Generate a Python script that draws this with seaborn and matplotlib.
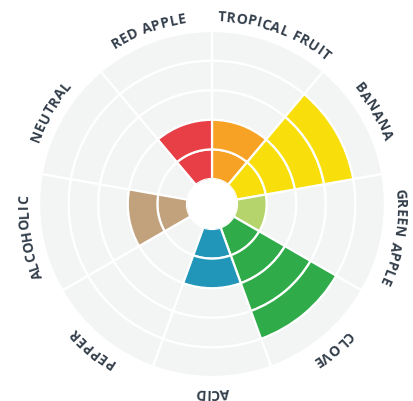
import numpy as np
import pandas as pd
import seaborn as sns
import matplotlib
matplotlib.use("Agg")
import matplotlib.pyplot as plt
from matplotlib.font_manager import FontProperties
from matplotlib.textpath import text_to_path

categories = ["TROPICAL FRUIT", "BANANA", "GREEN APPLE", "CLOVE", "ACID",
              "PEPPER", "ALCOHOLIC", "NEUTRAL", "RED APPLE"]
values = [2, 4, 1, 4, 2, 0, 2, 0, 2]
colors = ["#f7a224", "#f8df0b", "#b5d46c", "#2fab4a", "#2196b8",
          "#9e9e9e", "#c2a27d", "#9e9e9e", "#e83f46"]
max_level = 5

sns.set_theme(style="white", rc={"axes.edgecolor": "white", "axes.linewidth": 0})
plt.rcParams['font.family'] = ['Open Sans', 'DejaVu Sans']

df = pd.DataFrame({"category": categories, "value": values, "color": colors})
n = len(df)
width = 2 * np.pi / n
df["theta"] = (np.arange(n) + 0.5) * width

W, H, dpi = 414, 402, 100
fig = plt.figure(figsize=(W / dpi, H / dpi), dpi=dpi)
cx, cy = 212, 402 - 205
Rpx = 200
ax = fig.add_axes([(cx - Rpx) / W, (cy - Rpx) / H, 2 * Rpx / W, 2 * Rpx / H],
                  projection="polar")
ax.set_theta_zero_location("N")
ax.set_theta_direction(-1)
hole = 0.845
rmax = 5.912
ax.set_rorigin(-hole)
ax.set_ylim(0, rmax)

bg = "#f3f4f4"
for th in df["theta"]:
    for lvl in range(max_level):
        ax.bar(th, 1, width=width, bottom=lvl, color=bg, edgecolor="white",
               linewidth=1.6, align="center")
for _, row in df.iterrows():
    for lvl in range(int(row["value"])):
        ax.bar(row["theta"], 1, width=width, bottom=lvl, color=row["color"],
               edgecolor="white", linewidth=1.6, align="center")

ax.grid(False)
ax.set_xticks([])
ax.set_yticks([])
for sp in ax.spines.values():
    sp.set_visible(False)
ax.set_facecolor("white")
ax.patch.set_edgecolor("none")
ax.patch.set_linewidth(0)

# curved labels
fs = 10
fp = FontProperties(family="Open Sans", weight="bold", size=fs)
r_label = 5.50
r_px = (r_label + hole) / (rmax + hole) * Rpx
track = 0.6
txtcol = "#333e4b"
for _, row in df.iterrows():
    label = row["category"]
    widths = []
    for ch in label:
        if ch == " ":
            w = text_to_path.get_text_width_height_descent("n", fp, ismath=False)[0] * 0.45
        else:
            w = text_to_path.get_text_width_height_descent(ch, fp, ismath=False)[0]
        widths.append(w * dpi / 72 + track)
    total = sum(widths) - track
    ang = row["theta"] - (total / r_px) / 2
    for ch, w in zip(label, widths):
        cw = w - track
        a = ang + (cw / 2) / r_px
        ax.text(a, r_label, ch, rotation=-np.degrees(a), rotation_mode="anchor",
                ha="center", va="center", fontproperties=fp, color=txtcol,
                clip_on=False)
        ang += w / r_px

fig.savefig("out.png", dpi=dpi, facecolor="white")
